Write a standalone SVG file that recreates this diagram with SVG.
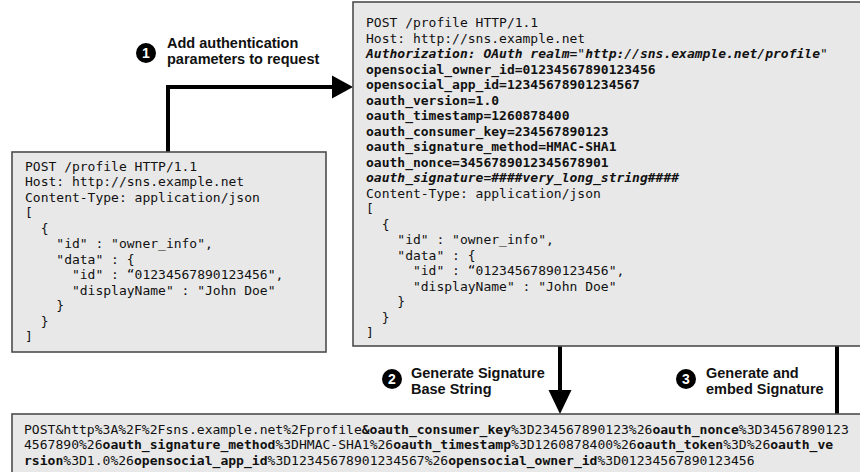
<svg xmlns="http://www.w3.org/2000/svg" width="860" height="472" viewBox="0 0 860 472">
<style>
.box{fill:#e8e8e8;stroke:#4d4d4d;stroke-width:1.6}
.mono{font-family:"DejaVu Sans Mono","Liberation Mono",monospace;font-size:13px;fill:#111;white-space:pre}
.b{font-weight:bold}
.bi{font-weight:bold;font-style:italic}
.lbl{font-family:"Liberation Sans",Arial,sans-serif;font-size:14.5px;font-weight:bold;fill:#111}
.num{font-family:"Liberation Sans",Arial,sans-serif;font-size:14px;font-weight:bold;fill:#fff;text-anchor:middle}
.ln{fill:none;stroke:#000;stroke-width:4}
.hd{fill:#000}
</style>
<rect width="860" height="472" fill="#fff"/>
<g id="connectors">
<path class="ln" d="M168,152 V87 H334"/>
<polygon class="hd" points="332,75.5 353,87 332,98.5"/>
<path class="ln" d="M560,346 V392"/>
<polygon class="hd" points="548.5,390 571.5,390 560,414"/>
<path class="ln" d="M837,414 V178 H726"/>
<polygon class="hd" points="728,169.5 728,186.5 700,178"/>
</g>
<g id="label1">
<circle cx="146" cy="53" r="10" fill="#000"/>
<text class="num" x="146" y="58">1</text>
<text class="lbl" x="167" y="48">Add authentication</text>
<text class="lbl" x="167" y="63.5">parameters to request</text>
</g>
<g id="label2">
<circle cx="392" cy="379" r="10" fill="#000"/>
<text class="num" x="392" y="384">2</text>
<text class="lbl" x="411" y="378">Generate Signature</text>
<text class="lbl" x="411" y="394">Base String</text>
</g>
<g id="label3">
<circle cx="686" cy="379" r="10" fill="#000"/>
<text class="num" x="686" y="384">3</text>
<text class="lbl" x="706" y="378">Generate and</text>
<text class="lbl" x="706" y="394">embed Signature</text>
</g>
<g id="request">
<rect class="box" x="12" y="152" width="314" height="200"/>
<text class="mono" xml:space="preserve"><tspan x="25" y="170.5">POST /profile HTTP/1.1</tspan><tspan x="25" y="186">Host: http://sns.example.net</tspan><tspan x="25" y="201.5">Content-Type: application/json</tspan><tspan x="25" y="217">[</tspan><tspan x="25" y="232.5">  {</tspan><tspan x="25" y="248">    "id" : "owner_info",</tspan><tspan x="25" y="263.5">    "data" : {</tspan><tspan x="25" y="279">      "id" : “01234567890123456",</tspan><tspan x="25" y="294.5">      "displayName" : "John Doe"</tspan><tspan x="25" y="310">    }</tspan><tspan x="25" y="325.5">  }</tspan><tspan x="25" y="341">]</tspan></text>
</g>
<g id="signed-request">
<rect class="box" x="353" y="2" width="520" height="344"/>
<text class="mono" xml:space="preserve"><tspan x="366" y="27">POST /profile HTTP/1.1</tspan><tspan x="366" y="42.5">Host: http://sns.example.net</tspan><tspan x="366" y="58" class="bi">Authorization: OAuth realm=</tspan><tspan>"</tspan><tspan class="bi">http://sns.example.net/profile</tspan><tspan>"</tspan><tspan x="366" y="73.5" class="b">opensocial_owner_id=01234567890123456</tspan><tspan x="366" y="89" class="b">opensocial_app_id=12345678901234567</tspan><tspan x="366" y="104.5" class="b">oauth_version=1.0</tspan><tspan x="366" y="120" class="b">oauth_timestamp=1260878400</tspan><tspan x="366" y="135.5" class="b">oauth_consumer_key=234567890123</tspan><tspan x="366" y="151" class="b">oauth_signature_method=HMAC-SHA1</tspan><tspan x="366" y="166.5" class="b">oauth_nonce=3456789012345678901</tspan><tspan x="366" y="182" class="bi">oauth_signature=####very_long_string####</tspan><tspan x="366" y="197.5">Content-Type: application/json</tspan><tspan x="366" y="213">[</tspan><tspan x="366" y="228.5">  {</tspan><tspan x="366" y="244">    "id" : "owner_info",</tspan><tspan x="366" y="259.5">    "data" : {</tspan><tspan x="366" y="275">      "id" : “01234567890123456",</tspan><tspan x="366" y="290.5">      "displayName" : "John Doe"</tspan><tspan x="366" y="306">    }</tspan><tspan x="366" y="321.5">  }</tspan><tspan x="366" y="337">]</tspan></text>
</g>
<g id="base-string">
<rect class="box" x="12" y="414" width="860" height="70"/>
<text class="mono" style="font-size:13.05px" xml:space="preserve"><tspan x="24" y="433.5">POST&amp;http%3A%2F%2Fsns.example.net%2Fprofile</tspan><tspan class="b">&amp;oauth_consumer_key</tspan><tspan>%3D234567890123%26</tspan><tspan class="b">oauth_nonce</tspan><tspan>%3D34567890123</tspan><tspan x="24" y="449">4567890%26</tspan><tspan class="b">oauth_signature_method</tspan><tspan>%3DHMAC-SHA1%26</tspan><tspan class="b">oauth_timestamp</tspan><tspan>%3D1260878400%26</tspan><tspan class="b">oauth_token</tspan><tspan>%3D%26</tspan><tspan class="b">oauth_ve</tspan><tspan x="24" y="464.5" class="b">rsion</tspan><tspan>%3D1.0%26</tspan><tspan class="b">opensocial_app_id</tspan><tspan>%3D12345678901234567%26</tspan><tspan class="b">opensocial_owner_id</tspan><tspan>%3D01234567890123456</tspan></text>
</g>
</svg>
